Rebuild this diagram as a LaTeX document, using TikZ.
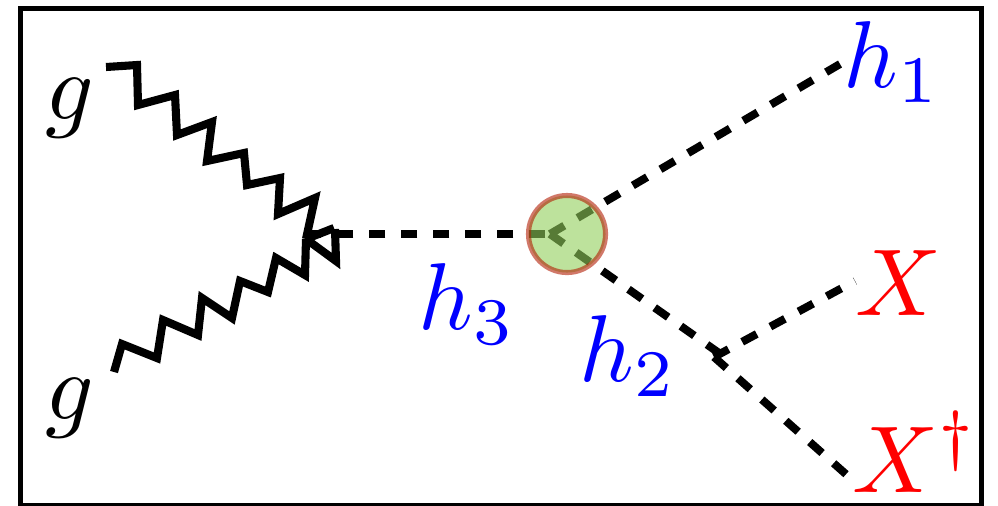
\documentclass[tikz,border=0pt]{standalone}
\usepackage{amsmath,amssymb,amsfonts}
\usepackage{xcolor}
\usetikzlibrary{positioning,arrows.meta}
\definecolor{blobfill}{RGB}{145,206,90}
\definecolor{blobline}{RGB}{178,30,5}
\tikzset{
  gluon/.style={line width=2.3pt,black},
  scalarline/.style={line width=2.27pt,black,dash pattern=on 4.7pt off 4.4pt},
  partlabel/.style={scale=2.7,transform shape,inner sep=0pt},
  higgslabel/.style={partlabel,text=blue},
  darklabel/.style={partlabel,text=red},
}
\begin{document}
\begin{tikzpicture}[x=0.01cm,y=-0.01cm]
  \useasboundingbox (0,0) rectangle (998,505);
  \node[draw=black,line width=1.56pt,minimum width=9.6cm,minimum height=4.97cm,inner sep=0pt] (frame) at (501,257) {};
  % vertices
  \coordinate (ggvtx) at (306,239);
  \coordinate (hthreeend) at (306,234);
  \coordinate (blobvtx) at (550,234);
  \coordinate (htwoend) at (719,353);
  \coordinate (decayvtx) at (714,357);
  \coordinate (gtopend) at (106,67);
  \coordinate (gbotend) at (114,372);
  \coordinate (honeend) at (840,64);
  \coordinate (xend) at (855,281);
  \coordinate (xdagend) at (848,476);
  % gluons
  \draw[gluon] (gtopend) -- (137,65) -- (138,105) -- (175,95) -- (177,135) -- (212,122) -- (207,161)
    -- (244,153) -- (247,185) -- (280,178) -- (278,214) -- (315,198) -- (ggvtx);
  \draw[gluon] (gbotend) -- (122,344) -- (157,358) -- (163,320) -- (198,335) -- (202,298) -- (232,318)
    -- (240,281) -- (268,292) -- (276,258) -- (305,275) -- (ggvtx);
  % arrow on the vertex
  \draw[gluon] (ggvtx) -- (334,228) (ggvtx) -- (336,261) -- (335,229);
  % scalar lines
  \draw[scalarline,dash phase=7.8pt] (blobvtx) -- (hthreeend);
  \draw[scalarline] (blobvtx) -- (honeend);
  \draw[scalarline] (blobvtx) -- (htwoend);
  \draw[scalarline] (decayvtx) -- (xend);
  \draw[scalarline] (decayvtx) -- (xdagend);
  % blob
  \node[circle,draw=blobline,fill=blobfill,opacity=0.6,line width=1.45pt,minimum size=0.77cm,inner sep=0pt] (blob) at (567,234) {};
  % labels
  \node[partlabel] (gtop) at (70,108) {$g$};
  \node[partlabel] (gbot) at (70,408) {$g$};
  \node[higgslabel] (hone) at (892,62) {$h_1$};
  \node[higgslabel] (hthree) at (467,304) {$h_3$};
  \node[higgslabel] (htwo) at (628,356) {$h_2$};
  \node[darklabel] (xlab) at (899,283) {$X$};
  \node[darklabel] (xdaglab) at (915,452) {$X^\dagger$};
\end{tikzpicture}
\end{document}
